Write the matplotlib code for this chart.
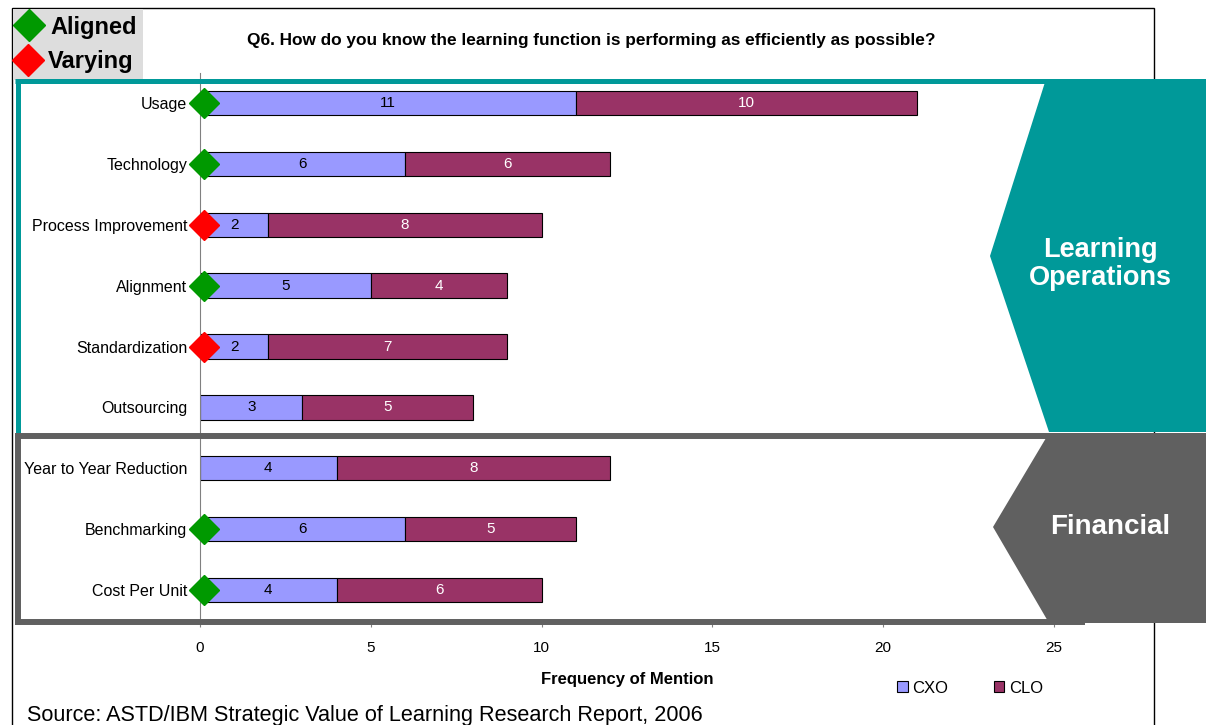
import matplotlib
matplotlib.use('Agg')
from matplotlib import pyplot as plt
from matplotlib.patches import Polygon, Rectangle
from matplotlib.lines import Line2D
import numpy as np

plt.rcParams['font.family'] = ['Liberation Sans', 'DejaVu Sans']

categories = ['Usage', 'Technology', 'Process Improvement', 'Alignment',
              'Standardization', 'Outsourcing', 'Year to Year Reduction',
              'Benchmarking', 'Cost Per Unit']
cxo = [11, 6, 2, 5, 2, 3, 4, 6, 4]
clo = [10, 6, 8, 4, 7, 5, 8, 5, 6]
status = ['Aligned', 'Aligned', 'Varying', 'Aligned', 'Varying', None, None,
          'Aligned', 'Aligned']
xticks = [0, 5, 10, 15, 20, 25]

CXO_C = '#9999FF'
CLO_C = '#993366'
TEAL = '#009999'
GREY = '#606060'
MARK = {'Aligned': '#009900', 'Varying': '#FF0000'}

W, H = 1206, 725
fig = plt.figure(figsize=(W / 100, H / 100), dpi=100)

# main bar axes (pixel placement converted to fractions)
top_px, bot_px = 72.6, 620.4
ax = fig.add_axes([200 / W, 1 - bot_px / H, 854 / W, (bot_px - top_px) / H])
y = np.arange(len(categories))
b1 = ax.barh(y, cxo, height=0.4, color=CXO_C, edgecolor='black', lw=0.8, label='CXO')
b2 = ax.barh(y, clo, left=cxo, height=0.4, color=CLO_C, edgecolor='black', lw=0.8, label='CLO')
ax.bar_label(b1, label_type='center', fontsize=11, color='black')
ax.bar_label(b2, label_type='center', fontsize=11, color='white')

for i, s in enumerate(status):
    if s:
        ax.plot(0.12, i, marker='D', ms=15, color=MARK[s], mec=MARK[s],
                clip_on=False, zorder=5)

ax.set_xlim(0, 25)
ax.set_ylim(len(categories) - 0.5, -0.5)
ax.set_yticks(y)
ax.set_yticklabels(categories, fontsize=11.5)
ax.set_xticks(xticks)
ax.tick_params(axis='y', length=0, pad=9)
ax.tick_params(axis='x', length=5, width=0.8, color='#808080', labelsize=11, pad=10)
for side in ['top', 'right']:
    ax.spines[side].set_visible(False)
ax.spines['left'].set_color('#808080')
ax.spines['bottom'].set_color('#808080')
ax.set_xlabel('Frequency of Mention', fontsize=12, fontweight='bold', labelpad=12)
ax.legend(loc='upper left', bbox_to_anchor=(690 / 854, -0.098), ncol=2, frameon=False,
          fontsize=12, handlelength=0.65, handleheight=0.65, handletextpad=0.3,
          columnspacing=2.7, borderaxespad=0)

# overlay in pixel coordinates for the decorations
ov = fig.add_axes([0, 0, 1, 1], zorder=3)
ov.set_xlim(0, W)
ov.set_ylim(H, 0)
ov.axis('off')
ov.patch.set_alpha(0)

# outer frame
ov.add_patch(Rectangle((12, 7.5), 1142, 730, fill=False, ec='black', lw=1.0, zorder=1))

# group boxes
ov.add_line(Line2D([15, 1073], [81, 81], color=TEAL, lw=3.6, solid_capstyle='butt', zorder=2))
ov.add_line(Line2D([17.5, 17.5], [79, 433], color=TEAL, lw=3.6, solid_capstyle='butt', zorder=2))
ov.add_line(Line2D([15, 1085], [436, 436], color=GREY, lw=4.3, solid_capstyle='butt', zorder=2))
ov.add_line(Line2D([18, 18], [433, 625], color=GREY, lw=4.3, solid_capstyle='butt', zorder=2))
ov.add_line(Line2D([15, 1085], [621.5, 621.5], color=GREY, lw=4.3, solid_capstyle='butt', zorder=2))

# chevrons
ov.add_patch(Polygon([(1046, 79), (1206, 79), (1206, 432), (1049, 432), (990, 256)],
                     closed=True, fc=TEAL, ec='none', zorder=3))
ov.add_patch(Polygon([(1049, 433), (1206, 433), (1206, 623), (1049, 623), (993, 527)],
                     closed=True, fc=GREY, ec='none', zorder=3))
ov.text(1100, 264, 'Learning\nOperations', color='white', fontsize=19.5, fontweight='bold',
        ha='center', va='center', linespacing=1.1, zorder=4)
ov.text(1110, 527, 'Financial', color='white', fontsize=20, fontweight='bold',
        ha='center', va='center', zorder=4)

# aligned / varying key
ov.add_patch(Rectangle((13, 9), 130, 71, fc='#DDDDDD', ec='none', zorder=1))
ov.plot(29, 25, marker='D', ms=16, color=MARK['Aligned'], zorder=4)
ov.plot(28, 60, marker='D', ms=16, color=MARK['Varying'], zorder=4)
ov.text(50, 27, 'Aligned', fontsize=17, fontweight='bold', va='center', zorder=4)
ov.text(48, 61, 'Varying', fontsize=17, fontweight='bold', va='center', zorder=4)

ov.text(591, 40, 'Q6. How do you know the learning function is performing as efficiently as possible?',
        fontsize=12.4, fontweight='bold', ha='center', va='center')
ov.text(27, 715, 'Source: ASTD/IBM Strategic Value of Learning Research Report, 2006',
        fontsize=15.6, ha='left', va='center')

fig.savefig('out.png', dpi=100)
